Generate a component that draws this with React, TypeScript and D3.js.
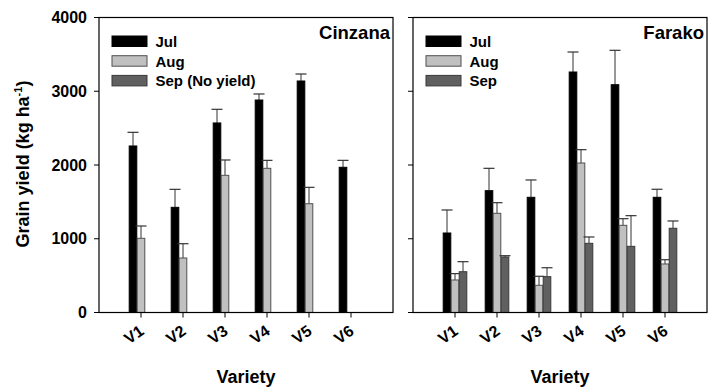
import * as d3 from "d3";

const varieties = ["V1", "V2", "V3", "V4", "V5", "V6"];
const months = ["Jul", "Aug", "Sep"];

// Cinzana (no September yield)
const cinzanaJul = [2258, 1426, 2570, 2881, 3139, 1969];
const cinzanaJulErr = [2443, 1670, 2755, 2963, 3234, 2063];
const cinzanaAug = [1006, 739, 1860, 1955, 1475, null];
const cinzanaAugErr = [1173, 933, 2068, 2063, 1697, null];

// Farako
const farakoJul = [1078, 1652, 1562, 3261, 3089, 1562];
const farakoJulErr = [1390, 1955, 1797, 3532, 3555, 1671];
const farakoAug = [441, 1345, 369, 2027, 1182, 658];
const farakoAugErr = [527, 1489, 491, 2208, 1272, 716];
const farakoSep = [553, 753, 486, 938, 897, 1142];
const farakoSepErr = [689, 770, 607, 1024, 1313, 1241];

const yTicks = [0, 1000, 2000, 3000, 4000];

const fills: Record<string, string> = { Jul: "#000000", Aug: "#c0c0c0", Sep: "#606060" };
const strokes: Record<string, string> = { Jul: "#000000", Aug: "#505050", Sep: "#383838" };

const font = "Arial, 'Liberation Sans', sans-serif";

type Panel = {
  title: string;
  left: number;
  legend: string[];
  series: { month: string; values: (number | null)[]; errs: (number | null)[] }[];
};

const panels: Panel[] = [
  {
    title: "Cinzana",
    left: 99,
    legend: ["Jul", "Aug", "Sep (No yield)"],
    series: [
      { month: "Jul", values: cinzanaJul, errs: cinzanaJulErr },
      { month: "Aug", values: cinzanaAug, errs: cinzanaAugErr },
    ],
  },
  {
    title: "Farako",
    left: 413,
    legend: ["Jul", "Aug", "Sep"],
    series: [
      { month: "Jul", values: farakoJul, errs: farakoJulErr },
      { month: "Aug", values: farakoAug, errs: farakoAugErr },
      { month: "Sep", values: farakoSep, errs: farakoSepErr },
    ],
  },
];

const top = 17.5;
const bottom = 312.5;
const panelW = 294;

const y = d3.scaleLinear().domain([0, 4000]).range([bottom, top]);

function PanelView({ p, showLabels }: { p: Panel; showLabels: boolean }) {
  const x = d3.scalePoint<string>().domain(["", ...varieties, " "]).range([p.left, p.left + panelW]);
  const bw = 7.6;
  const off = d3.scaleBand<string>().domain(months).range([-12, 12]);
  return (
    <g>
      {p.series.map((s) =>
        s.values.map((v, i) => {
          if (v == null) return null;
          const cx = (x(varieties[i]) as number) + (off(s.month) as number) + off.bandwidth() / 2;
          const e = s.errs[i] as number;
          return (
            <g key={s.month + i}>
              <line x1={cx} x2={cx} y1={y(v)} y2={y(e)} stroke="#333" strokeWidth={1} />
              <line x1={cx - 5.5} x2={cx + 5.5} y1={y(e)} y2={y(e)} stroke="#333" strokeWidth={1.2} />
              <rect
                x={cx - bw / 2}
                y={y(v)}
                width={bw}
                height={bottom - y(v)}
                fill={fills[s.month]}
                stroke={strokes[s.month]}
                strokeWidth={1}
              />
            </g>
          );
        })
      )}
      <rect x={p.left} y={top} width={panelW} height={bottom - top} fill="none" stroke="#000" strokeWidth={1.2} />
      {yTicks.map((t) => (
        <g key={t}>
          <line x1={p.left - 5} x2={p.left} y1={y(t)} y2={y(t)} stroke="#000" strokeWidth={1} />
          {showLabels && (
            <text x={p.left - 12} y={y(t) + 5.5} textAnchor="end" fontSize={16} fontWeight="bold" fontFamily={font}>
              {t}
            </text>
          )}
        </g>
      ))}
      {varieties.map((v) => {
        const tx = x(v) as number;
        return (
          <g key={v}>
            <line x1={tx} x2={tx} y1={bottom} y2={bottom + 5} stroke="#000" strokeWidth={1} />
            <text
              transform={`translate(${tx + 4},${bottom + 21}) rotate(-35)`}
              textAnchor="end"
              fontSize={16}
              fontWeight="bold"
              fontFamily={font}
            >
              {v}
            </text>
          </g>
        );
      })}
      <text
        x={p.left + panelW / 2}
        y={383}
        textAnchor="middle"
        fontSize={18}
        fontWeight="bold"
        fontFamily={font}
      >
        Variety
      </text>
      <text x={p.left + panelW - 3} y={39} textAnchor="end" fontSize={18.5} fontWeight="bold" fontFamily={font}>
        {p.title}
      </text>
      {p.legend.map((l, i) => (
        <g key={l}>
          <rect
            x={p.left + 13}
            y={36 + i * 19.7}
            width={35}
            height={10.5}
            fill={fills[months[i]]}
            stroke={strokes[months[i]]}
            strokeWidth={1}
          />
          <text x={p.left + 56.5} y={47 + i * 19.7} fontSize={15} fontWeight="bold" fontFamily={font}>
            {l}
          </text>
        </g>
      ))}
    </g>
  );
}

export default function App() {
  return (
    <svg width={711} height={387} style={{ position: "absolute", left: 0, top: 0, background: "#fff" }}>
      <rect width={711} height={387} fill="#fff" />
      {panels.map((p, i) => (
        <PanelView key={p.title} p={p} showLabels={i === 0} />
      ))}
      <text
        transform="translate(29,164) rotate(-90)"
        textAnchor="middle"
        fontSize={18}
        fontWeight="bold"
        fontFamily={font}
      >
        Grain yield (kg ha
        <tspan fontSize={11} dy={-7}>-1</tspan>
        <tspan dy={7}>)</tspan>
      </text>
    </svg>
  );
}
